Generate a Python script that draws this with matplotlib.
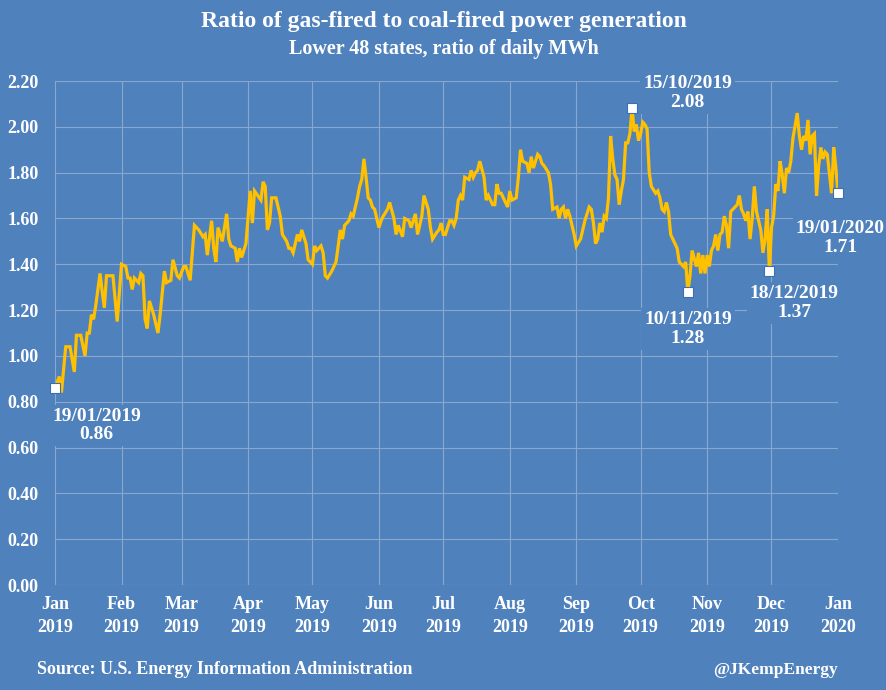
import numpy as np
import matplotlib
matplotlib.use("Agg")
import matplotlib.pyplot as plt
import matplotlib.dates as mdates

# days after 19/01/2019 and the gas/coal ratio
days = [0, 2, 3, 5, 7, 9, 10, 12, 14, 15, 16, 17, 18, 19, 21, 22, 23, 24, 27, 29,
        31, 33, 34, 35, 36, 37, 39, 40, 41, 42, 43, 44, 46, 48, 49, 51, 52, 54, 55, 57,
        58, 60, 61, 63, 64, 65, 67, 69, 70, 71, 73, 74, 75, 76, 78, 80, 81, 82, 84, 85,
        86, 87, 89, 91, 92, 93, 96, 97, 98, 99, 100, 101, 103, 105, 106, 108, 109, 110, 111, 113,
        114, 115, 117, 118, 120, 121, 122, 123, 124, 125, 126, 127, 129, 131, 133, 134, 135, 137, 138, 139,
        141, 142, 143, 144, 145, 146, 147, 148, 149, 151, 152, 153, 155, 156, 158, 159, 160, 162, 163, 165,
        166, 168, 169, 171, 172, 174, 175, 176, 178, 179, 180, 181, 182, 184, 185, 186, 187, 188, 189, 190,
        191, 193, 194, 195, 196, 197, 198, 200, 201, 202, 204, 205, 206, 207, 208, 210, 211, 212, 213, 215,
        216, 217, 218, 220, 221, 222, 223, 225, 226, 227, 228, 230, 231, 232, 234, 235, 236, 237, 238, 239,
        240, 241, 242, 243, 245, 247, 249, 250, 251, 252, 253, 254, 255, 256, 257, 258, 259, 260, 261, 262,
        263, 264, 265, 266, 267, 268, 269, 270, 271, 272, 273, 274, 275, 276, 277, 278, 280, 281, 282, 283,
        284, 285, 286, 287, 289, 290, 291, 293, 294, 295, 296, 297, 299, 300, 301, 302, 303, 304, 305, 306,
        307, 308, 309, 310, 311, 312, 313, 314, 315, 317, 318, 319, 320, 321, 322, 323, 324, 325, 326, 327,
        329, 330, 331, 332, 333, 334, 335, 336, 337, 338, 339, 340, 341, 342, 343, 344, 346, 347, 348, 349,
        350, 351, 352, 353, 354, 355, 356, 357, 358, 359, 360, 362, 363, 364, 365]
ratio = [0.86, 0.91, 0.84, 1.04, 1.04, 0.93, 1.09, 1.09, 1.00, 1.10, 1.10, 1.18, 1.16, 1.22, 1.36, 1.28, 1.21, 1.35, 1.35, 1.15,
         1.40, 1.39, 1.34, 1.34, 1.29, 1.34, 1.32, 1.36, 1.35, 1.16, 1.12, 1.24, 1.18, 1.10, 1.18, 1.37, 1.32, 1.33, 1.42, 1.35,
         1.34, 1.39, 1.39, 1.33, 1.45, 1.57, 1.55, 1.52, 1.53, 1.44, 1.59, 1.47, 1.41, 1.56, 1.50, 1.62, 1.51, 1.48, 1.47, 1.41,
         1.47, 1.43, 1.49, 1.72, 1.58, 1.72, 1.68, 1.76, 1.74, 1.55, 1.58, 1.69, 1.69, 1.61, 1.53, 1.50, 1.47, 1.47, 1.45, 1.53,
         1.50, 1.55, 1.49, 1.42, 1.40, 1.48, 1.46, 1.47, 1.48, 1.45, 1.35, 1.34, 1.37, 1.41, 1.55, 1.51, 1.57, 1.59, 1.62, 1.61,
         1.69, 1.74, 1.77, 1.86, 1.78, 1.69, 1.68, 1.65, 1.64, 1.56, 1.59, 1.61, 1.64, 1.67, 1.60, 1.53, 1.57, 1.52, 1.60, 1.59,
         1.56, 1.62, 1.53, 1.61, 1.70, 1.64, 1.56, 1.51, 1.54, 1.55, 1.58, 1.53, 1.53, 1.59, 1.59, 1.57, 1.60, 1.68, 1.70, 1.68,
         1.78, 1.77, 1.81, 1.78, 1.80, 1.81, 1.85, 1.78, 1.68, 1.70, 1.66, 1.66, 1.75, 1.71, 1.71, 1.67, 1.65, 1.72, 1.68, 1.69,
         1.78, 1.90, 1.85, 1.84, 1.80, 1.87, 1.82, 1.88, 1.87, 1.84, 1.83, 1.80, 1.75, 1.64, 1.65, 1.60, 1.64, 1.65, 1.60, 1.64,
         1.61, 1.57, 1.53, 1.48, 1.51, 1.59, 1.65, 1.64, 1.58, 1.49, 1.51, 1.58, 1.54, 1.61, 1.60, 1.69, 1.96, 1.86, 1.79, 1.77,
         1.66, 1.72, 1.77, 1.93, 1.93, 1.97, 2.08, 1.98, 2.01, 1.94, 1.97, 2.02, 2.01, 1.99, 1.80, 1.74, 1.71, 1.72, 1.69, 1.64,
         1.63, 1.67, 1.63, 1.53, 1.49, 1.47, 1.41, 1.39, 1.41, 1.28, 1.35, 1.46, 1.39, 1.45, 1.36, 1.44, 1.36, 1.44, 1.39, 1.46,
         1.48, 1.53, 1.46, 1.53, 1.54, 1.61, 1.57, 1.47, 1.63, 1.65, 1.66, 1.70, 1.64, 1.62, 1.59, 1.63, 1.51, 1.60, 1.74, 1.63,
         1.55, 1.45, 1.51, 1.64, 1.37, 1.56, 1.61, 1.75, 1.72, 1.85, 1.79, 1.71, 1.82, 1.80, 1.85, 1.95, 2.06, 1.96, 1.90, 1.96,
         1.94, 2.03, 1.88, 1.96, 1.97, 1.70, 1.83, 1.91, 1.86, 1.89, 1.88, 1.71, 1.91, 1.82, 1.71]

# labelled points
label_dates = ["2019-01-19", "2019-10-15", "2019-11-10", "2019-12-18", "2020-01-19"]
label_text = ["19/01/2019\n0.86", "15/10/2019\n2.08", "10/11/2019\n1.28", "18/12/2019\n1.37", "19/01/2020\n1.71"]
label_vals = [0.86, 2.08, 1.28, 1.37, 1.71]
label_offsets = [(30, -27), (40, 11), (0, -27), (18, -23), (1.5, -32)]

title = "Ratio of gas-fired to coal-fired power generation"
subtitle = "Lower 48 states, ratio of daily MWh"
source = "Source: U.S. Energy Information Administration"
handle = "@JKempEnergy"

bg = "#4f81bd"
grid_c = "#8aa7cf"
line_c = "#ffc000"

plt.rcParams["font.family"] = ["Liberation Serif", "DejaVu Serif"]
plt.rcParams["font.weight"] = "bold"

start = np.datetime64("2019-01-19")
dates = start + np.array(days, dtype="timedelta64[D]")

fig = plt.figure(figsize=(8.87, 6.9), dpi=100, facecolor=bg)
ax = fig.add_axes([55 / 887, 1 - 585 / 690, (838 - 55) / 887, (585 - 81) / 690])
ax.set_facecolor(bg)

ax.plot(dates, ratio, color=line_c, lw=2.3, zorder=3, solid_joinstyle="miter")

ticks = np.arange(np.datetime64("2019-01"), np.datetime64("2020-02"), dtype="datetime64[M]")
ticks = ticks.astype("datetime64[D]") + np.timedelta64(18, "D")
ax.set_xticks(ticks)
ax.xaxis.set_major_formatter(mdates.DateFormatter("%b\n%Y"))
ax.set_xlim(start, np.datetime64("2020-01-19"))
ax.set_ylim(0, 2.2)
ax.set_yticks(np.arange(0, 2.21, 0.2))
ax.yaxis.set_major_formatter(matplotlib.ticker.FormatStrFormatter("%.2f"))

ax.grid(True, color=grid_c, lw=0.8, zorder=0)
ax.set_axisbelow(True)
for s in ax.spines.values():
    s.set_visible(False)
ax.tick_params(length=0, colors="white", labelsize=13)
ax.tick_params(axis="y", pad=12)
ax.tick_params(axis="x", pad=8)
for t in ax.get_xticklabels():
    t.set_linespacing(1.45)

for d, txt, v, off in zip(label_dates, label_text, label_vals, label_offsets):
    x = np.datetime64(d)
    ax.plot([x], [v], marker="s", ms=6.5, mfc="white", mec="#3a6fb5", mew=0.8,
            zorder=5, clip_on=False)
    ax.annotate(txt, (x, v), xytext=off, textcoords="offset points",
                ha="center", va="center", color="white", fontsize=14,
                linespacing=1.15, zorder=4, annotation_clip=False,
                bbox=dict(boxstyle="square,pad=0.15", fc=bg, ec="none"))

fig.text(0.5, 1 - 21 / 690, title, ha="center", va="center", color="white", fontsize=17)
fig.text(0.5, 1 - 49 / 690, subtitle, ha="center", va="center", color="white", fontsize=14.5)
fig.text(37 / 887, 1 - 670 / 690, source, ha="left", va="center", color="white", fontsize=13)
fig.text(838 / 887, 1 - 670 / 690, handle, ha="right", va="center", color="white", fontsize=12.5)

fig.savefig("out.png", dpi=100, facecolor=bg)
